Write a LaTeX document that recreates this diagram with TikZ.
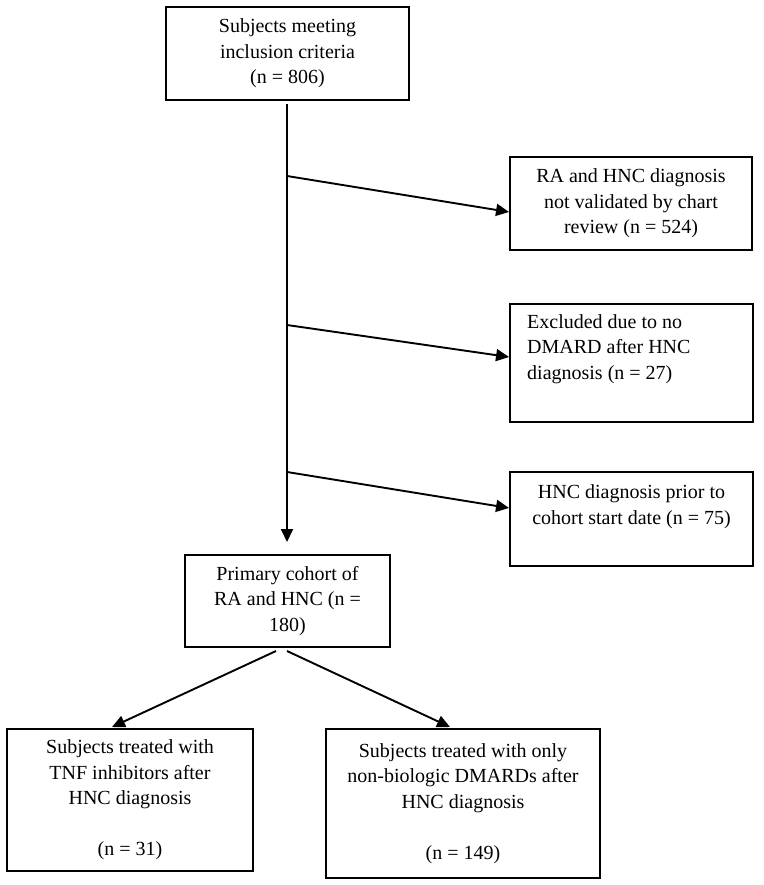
\documentclass[tikz,border=0pt]{standalone}
\usepackage{fontspec}
\setmainfont{Liberation Serif}
\usetikzlibrary{arrows.meta}
\begin{document}
\begin{tikzpicture}[x=1pt,y=-1pt,
  box/.style={draw, line width=1.9pt, inner sep=0pt, align=center,
    font=\fontsize{20}{25.5}\selectfont},
  txt/.style={inner sep=0pt, font=\fontsize{20}{25.5}\selectfont},
  arr/.style={line width=1.9pt, -{Triangle[length=13pt,width=12pt]}}]
\useasboundingbox (0,0) rectangle (763,885);
\fill[white] (0,0) rectangle (763,885);

\node[box, minimum width=243pt, minimum height=93pt] (b1) at (287.5,53.5)
  {Subjects meeting\\inclusion criteria\\(n = 806)};
\node[box, minimum width=242pt, minimum height=93pt] (b2) at (631,203.5)
  {RA and HNC diagnosis\\not validated by chart\\review (n = 524)};
\node[box, minimum width=243pt, minimum height=118pt] (b3) at (631.5,363) {};
\node[txt, align=left, anchor=west] (t3) at (527,349)
  {Excluded due to no\\DMARD after HNC\\diagnosis (n = 27)};
\node[box, minimum width=243pt, minimum height=94pt] (b4) at (631.5,519) {};
\node[txt, align=center] (t4) at (631.5,506.5)
  {HNC diagnosis prior to\\cohort start date (n = 75)};
\node[box, minimum width=205pt, minimum height=92pt] (p) at (287.5,601)
  {Primary cohort of\\RA and HNC (n =\\180)};
\node[box, minimum width=246pt, minimum height=142pt] (l) at (130,800)
  {Subjects treated with\\TNF inhibitors after\\HNC diagnosis\\\mbox{}\\(n = 31)};
\node[box, minimum width=274pt, minimum height=149pt] (r) at (463,803.5)
  {Subjects treated with only\\non-biologic DMARDs after\\HNC diagnosis\\\mbox{}\\(n = 149)};

\coordinate (v0) at (287,104);
\coordinate (v1) at (287,542);
\coordinate (s2) at (287,176);
\coordinate (e2) at (b2.west |- 0,212);
\coordinate (s3) at (287,325);
\coordinate (e3) at (b3.west |- 0,357);
\coordinate (s4) at (287,472);
\coordinate (e4) at (b4.west |- 0,508);
\coordinate (pl) at (276,651);
\coordinate (pr) at (287,651);
\coordinate (el) at (112,727);
\coordinate (er) at (450,727);

\draw[arr] (v0) -- (v1);
\draw[arr] (s2) -- (e2);
\draw[arr] (s3) -- (e3);
\draw[arr] (s4) -- (e4);
\draw[arr] (pl) -- (el);
\draw[arr] (pr) -- (er);
\end{tikzpicture}
\end{document}
